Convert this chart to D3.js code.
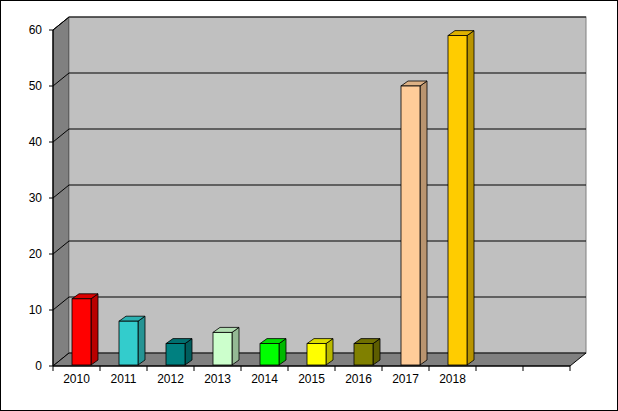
<!DOCTYPE html>
<html><head><meta charset="utf-8">
<script src="https://cdn.jsdelivr.net/npm/d3@7"></script>
<style>body{margin:0;background:#fff}svg{display:block}text{font-family:"Liberation Sans",Arial,sans-serif;font-size:12px}</style>
</head><body><svg width="618" height="411"></svg>
<script>
var categories = ['2010','2011','2012','2013','2014','2015','2016','2017','2018','',''];
var values = [12, 8, 4, 6, 4, 4, 4, 50, 59];
var colors = ['#ff0000','#33cccc','#008080','#ccffcc','#00ff00','#ffff00','#808000','#ffcc99','#ffcc00'];
var yTicks = [0,10,20,30,40,50,60];

var svg = d3.select('svg');
svg.append('rect').attr('x',0.5).attr('y',0.5).attr('width',617).attr('height',410)
  .attr('fill','#fff').attr('stroke','#000');

var dx = 16, dy = -13;
var x = d3.scaleBand().domain(d3.range(categories.length)).range([53,570]);
var y = d3.scaleLinear().domain([0,60]).range([366,30]);
var x0 = 53, x1 = 570, y0 = y(0), yt = y(60);

function pts(a){ return a.map(function(p){return p.join(',');}).join(' '); }
function shade(c,k){ return d3.color(c).darker(k).toString(); }

// left wall
svg.append('polygon').attr('points',pts([[x0,y0],[x0+dx,y0+dy],[x0+dx,yt+dy],[x0,yt]]))
  .attr('fill','#808080').attr('stroke','#000');
// back wall
svg.append('rect').attr('x',x0+dx).attr('y',yt+dy).attr('width',x1-x0).attr('height',y0-yt)
  .attr('fill','#c0c0c0').attr('stroke','#808080');
// floor
svg.append('polygon').attr('points',pts([[x0,y0],[x0+dx,y0+dy],[x1+dx,y0+dy],[x1,y0]]))
  .attr('fill','#808080').attr('stroke','#000');

// gridlines
yTicks.forEach(function(t){
  if (t === 0) return;
  svg.append('polyline').attr('fill','none').attr('stroke','#000')
    .attr('points',pts([[x0,y(t)],[x0+dx,y(t)+dy],[x1+dx,y(t)+dy]]));
});

// axes
svg.append('line').attr('x1',x0).attr('x2',x0).attr('y1',yt).attr('y2',y0).attr('stroke','#000');
svg.append('line').attr('x1',x0).attr('x2',x1).attr('y1',y0).attr('y2',y0).attr('stroke','#000');
yTicks.forEach(function(t){
  svg.append('line').attr('x1',x0-4).attr('x2',x0).attr('y1',y(t)).attr('y2',y(t)).attr('stroke','#000');
  svg.append('text').attr('x',x0-11).attr('y',y(t)+4).attr('text-anchor','end').text(t);
});
categories.forEach(function(c,i){
  var xt = x(i);
  svg.append('line').attr('x1',xt).attr('x2',xt).attr('y1',y0).attr('y2',y0+5).attr('stroke','#000');
  svg.append('text').attr('x',xt+x.bandwidth()/2).attr('y',y0+17).attr('text-anchor','middle').text(c);
});
svg.append('line').attr('x1',x1).attr('x2',x1).attr('y1',y0).attr('y2',y0+5).attr('stroke','#000');

// bars
var bw = 19, bd = 7, bh = -5;
values.forEach(function(v,i){
  var bx = x(i) + 19, by = y(v) + bh*-0 , base = y0;
  var g = svg.append('g').attr('stroke','#000').attr('stroke-width',0.8);
  var fy = y(v), fb = y0 - 1;
  g.append('polygon').attr('points',pts([[bx+bw,fb],[bx+bw+bd,fb+bh],[bx+bw+bd,fy+bh],[bx+bw,fy]]))
    .attr('fill',shade(colors[i],0.9));
  g.append('polygon').attr('points',pts([[bx,fy],[bx+bd,fy+bh],[bx+bw+bd,fy+bh],[bx+bw,fy]]))
    .attr('fill',shade(colors[i],0.4));
  g.append('rect').attr('x',bx).attr('y',fy).attr('width',bw).attr('height',fb-fy).attr('fill',colors[i]);
});
</script></body></html>
